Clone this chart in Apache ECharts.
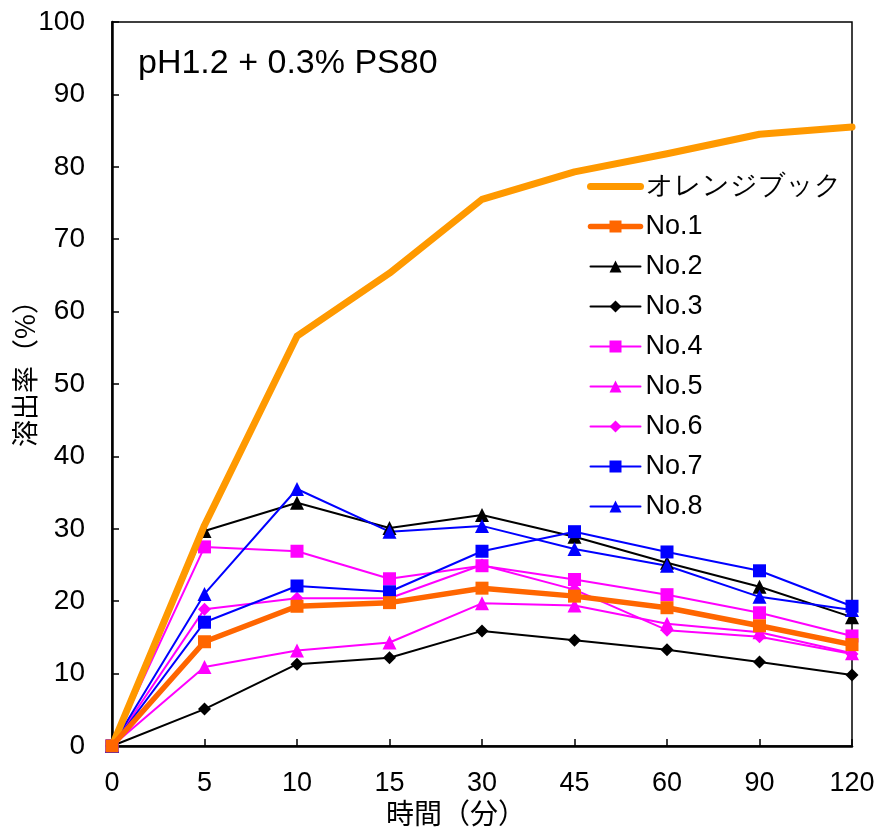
<!DOCTYPE html>
<html><head><meta charset="utf-8">
<script src="https://cdn.jsdelivr.net/npm/echarts@6/dist/echarts.min.js"></script>
<style>html,body{margin:0;padding:0;background:#fff}#c{width:879px;height:836px}</style>
</head><body><div id="c"></div>
<script>
const categories = ['0','5','10','15','30','45','60','90','120'];
const yTicks = [0,10,20,30,40,50,60,70,80,90,100];
const orangeBook = [0, 30.5, 56.6, 65.3, 75.5, 79.3, 81.8, 84.5, 85.5];
const no1 = [0, 14.4, 19.3, 19.8, 21.8, 20.7, 19.1, 16.6, 14.0];
const no2 = [0, 29.7, 33.6, 30.1, 31.9, 28.9, 25.3, 22.0, 17.8];
const no3 = [0, 5.1, 11.3, 12.2, 15.9, 14.6, 13.3, 11.6, 9.8];
const no4 = [0, 27.5, 26.9, 23.1, 24.9, 23.0, 20.9, 18.4, 15.2];
const no5 = [0, 10.9, 13.2, 14.3, 19.7, 19.4, 16.9, 15.7, 12.8];
const no6 = [0, 18.9, 20.4, 20.4, 25.0, 21.6, 16.0, 15.1, 12.7];
const no7 = [0, 17.1, 22.1, 21.3, 26.9, 29.6, 26.8, 24.2, 19.3];
const no8 = [0, 21.0, 35.5, 29.6, 30.4, 27.2, 24.9, 20.6, 18.8];
const seriesNames = ['オレンジブック','No.1','No.2','No.3','No.4','No.5','No.6','No.7','No.8'];

const FONT = '"Liberation Sans", Arial, sans-serif';
const JFONT = '"Noto Sans CJK JP", sans-serif';
const DIAMOND = 'path://M0,-1L1,0L0,1L-1,0Z';

function mk(name, data, color, width, symbol, size, z) {
  return {
    name, type: 'line', data, z: z || 2,
    lineStyle: { color, width, cap: 'round', join: 'round' },
    itemStyle: { color },
    symbol: symbol || 'none', symbolSize: size || 0,
    showSymbol: !!symbol,
    animation: false
  };
}
const widths = [7, 5.5, 2, 2, 2, 2, 2, 2, 2];

const chart = echarts.init(document.getElementById('c'), null, {renderer: 'canvas'});
chart.setOption({
  animation: false,
  backgroundColor: '#fff',
  title: {
    text: 'pH1.2 + 0.3% PS80', left: 133, top: 42,
    textStyle: { fontFamily: FONT, fontSize: 34, fontWeight: 'normal', color: '#000' }
  },
  grid: { left: 112, right: 27, top: 22, bottom: 90, show: true, borderColor: '#000', borderWidth: 1.5, containLabel: false, outerBoundsMode: 'none' },
  legend: {
    orient: 'vertical', left: 587, top: 173, padding: 0,
    itemWidth: 50, itemHeight: 15, itemGap: 13,
    data: seriesNames.map((n, i) => i === 0
      ? { name: n, itemStyle: { opacity: 0 }, lineStyle: { width: widths[i], cap: 'round' } }
      : { name: n, lineStyle: { width: widths[i], cap: 'round' } }),
    textStyle: { fontFamily: FONT, fontSize: 27, color: '#000' },
    backgroundColor: 'transparent'
  },
  xAxis: {
    type: 'category', data: categories, boundaryGap: false,
    axisLine: { lineStyle: { color: '#000', width: 2.5 } },
    axisTick: { inside: true, length: 7, lineStyle: { color: '#000', width: 1.5 } },
    axisLabel: { fontFamily: FONT, fontSize: 27, color: '#000', margin: 24 },
    splitLine: { show: false },
    name: '時間（分）', nameLocation: 'middle', nameGap: 53, nameMoveOverlap: false,
    nameTextStyle: { fontFamily: JFONT, fontSize: 28, color: '#000', padding: [0, 52, 0, 0] }
  },
  yAxis: {
    type: 'value', min: 0, max: 100, interval: 10,
    axisLine: { show: true, lineStyle: { color: '#000', width: 2.5 } },
    axisTick: { show: true, inside: true, length: 7, lineStyle: { color: '#000', width: 1.5 } },
    axisLabel: { fontFamily: FONT, fontSize: 28, color: '#000', margin: 27, formatter: v => yTicks.includes(v) ? String(v) : '' },
    splitLine: { show: false },
    name: '溶出率（%）', nameLocation: 'middle', nameGap: 74, nameMoveOverlap: false,
    nameTextStyle: { fontFamily: JFONT, fontSize: 27, color: '#000', padding: [0, 0, 0, 34] }
  },
  series: [
    mk('オレンジブック', orangeBook, '#FF9900', widths[0], null, 0, 3),
    mk('No.1', no1, '#FF6600', widths[1], 'rect', 13, 4),
    mk('No.2', no2, '#000000', widths[2], 'triangle', 14),
    mk('No.3', no3, '#000000', widths[3], DIAMOND, 13),
    mk('No.4', no4, '#FF00FF', widths[4], 'rect', 13),
    mk('No.5', no5, '#FF00FF', widths[5], 'triangle', 14),
    mk('No.6', no6, '#FF00FF', widths[6], DIAMOND, 13),
    mk('No.7', no7, '#0000FF', widths[7], 'rect', 13),
    mk('No.8', no8, '#0000FF', widths[8], 'triangle', 14)
  ]
});
</script></body></html>
